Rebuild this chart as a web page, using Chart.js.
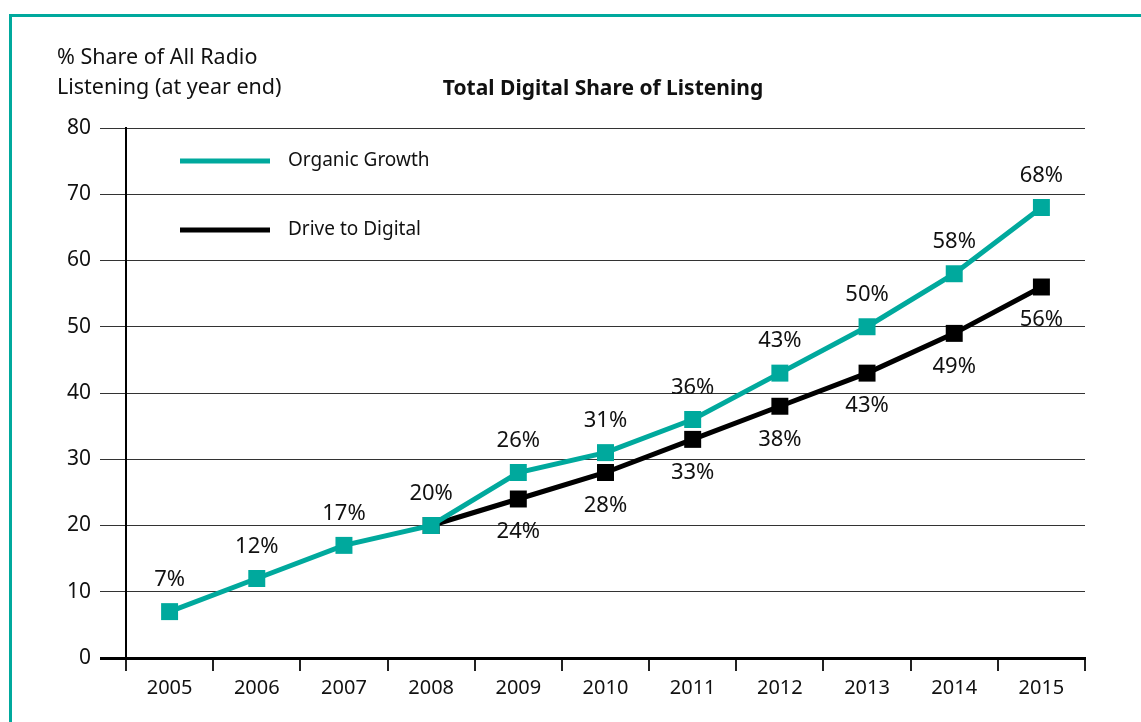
<!DOCTYPE html>
<html>
<head>
<meta charset="utf-8">
<script src="https://cdn.jsdelivr.net/npm/chart.js@4"></script>
<style>
  html, body { margin: 0; padding: 0; background: #fff; overflow: hidden; }
  #wrap { position: relative; width: 1141px; height: 722px; }
  #frame { position: absolute; left: 9px; top: 14px; width: 1200px; height: 800px; border: 3px solid #00a99d; box-sizing: border-box; }
  canvas { position: absolute; left: 0; top: 0; }
</style>
</head>
<body>
<div id="wrap">
  <div id="frame"></div>
  <canvas id="chart" width="1141" height="722"></canvas>
</div>
<script>
const years = ['2005', '2006', '2007', '2008', '2009', '2010', '2011', '2012', '2013', '2014', '2015'];
const organicGrowth = [7, 12, 17, 20, 28, 31, 36, 43, 50, 58, 68];
const organicLabels = ['7%', '12%', '17%', '20%', '26%', '31%', '36%', '43%', '50%', '58%', '68%'];
const driveToDigital = [null, null, null, 20, 24, 28, 33, 38, 43, 49, 56];
const driveLabels = [null, null, null, null, '24%', '28%', '33%', '38%', '43%', '49%', '56%'];
const yTicks = [0, 10, 20, 30, 40, 50, 60, 70, 80];

const TEAL = '#00a99d';
const FONT = '"Noto Sans", "Open Sans", sans-serif';

// titles, legend and point labels
const annotate = {
    id: 'annotate',
    afterDatasetsDraw(chart) {
        const ctx = chart.ctx;
        ctx.save();
        ctx.fillStyle = '#111';
        ctx.textBaseline = 'middle';

        ctx.font = '21.5px ' + FONT;
        ctx.textAlign = 'left';
        ctx.fillText('% Share of All Radio', 57, 58);
        ctx.fillText('Listening (at year end)', 57, 88);

        ctx.font = 'bold 21px ' + FONT;
        ctx.textAlign = 'center';
        ctx.fillText('Total Digital Share of Listening', 603, 89);

        // legend
        const items = [[TEAL, chart.data.datasets[0].label, 161], ['#000', chart.data.datasets[1].label, 230]];
        items.forEach(([col, txt, y]) => {
            ctx.strokeStyle = col;
            ctx.lineWidth = 5;
            ctx.beginPath();
            ctx.moveTo(180, y);
            ctx.lineTo(270, y);
            ctx.stroke();
            ctx.fillStyle = '#111';
            ctx.font = '19px ' + FONT;
            ctx.textAlign = 'left';
            ctx.fillText(txt, 288, y);
        });

        // value labels
        ctx.font = '22px ' + FONT;
        ctx.textAlign = 'center';
        const m0 = chart.getDatasetMeta(0);
        m0.data.forEach((pt, i) => {
            if (organicLabels[i]) ctx.fillText(organicLabels[i], pt.x, pt.y - 32);
        });
        const m1 = chart.getDatasetMeta(1);
        m1.data.forEach((pt, i) => {
            if (driveLabels[i]) ctx.fillText(driveLabels[i], pt.x, pt.y + 33);
        });
        ctx.restore();
    }
};

const ctx = document.getElementById('chart').getContext('2d');
new Chart(ctx, {
    type: 'line',
    data: {
        labels: years,
        datasets: [{
            label: 'Organic Growth',
            data: organicGrowth,
            borderColor: TEAL,
            backgroundColor: TEAL,
            borderWidth: 5,
            pointStyle: 'rect',
            pointRadius: 12,
            pointBorderWidth: 0,
            tension: 0
        }, {
            label: 'Drive to Digital',
            data: driveToDigital,
            borderColor: '#000',
            backgroundColor: '#000',
            borderWidth: 5,
            pointStyle: 'rect',
            pointRadius: 12,
            pointBorderWidth: 0,
            tension: 0
        }]
    },
    options: {
        responsive: false,
        animation: false,
        devicePixelRatio: 1,
        layout: { padding: { left: 0, right: 56, top: 128, bottom: 0 } },
        plugins: {
            legend: { display: false },
            title: { display: false },
            tooltip: { enabled: false }
        },
        scales: {
            x: {
                offset: true,
                grid: {
                    offset: true,
                    drawOnChartArea: false,
                    drawTicks: true,
                    tickLength: 13,
                    color: '#222',
                    lineWidth: 2
                },
                border: { display: true, color: '#000', width: 3 },
                ticks: { color: '#111', font: { family: FONT, size: 20 }, padding: 5, maxRotation: 0 },
                afterFit(scale) { scale.height = 722 - 658; }
            },
            y: {
                min: 0,
                max: 80,
                afterBuildTicks(scale) { scale.ticks = yTicks.map(v => ({ value: v })); },
                grid: {
                    drawTicks: true,
                    tickLength: 26,
                    color: ctx2 => ctx2.tick && ctx2.tick.value === 0 ? '#000' : '#333',
                    lineWidth: ctx2 => ctx2.tick && ctx2.tick.value === 0 ? 3 : 1
                },
                border: { display: true, color: '#000', width: 2 },
                ticks: { color: '#111', font: { family: FONT, size: 21 }, padding: 9 },
                afterFit(scale) { scale.width = 126; }
            }
        }
    },
    plugins: [annotate]
});
</script>
</body>
</html>
